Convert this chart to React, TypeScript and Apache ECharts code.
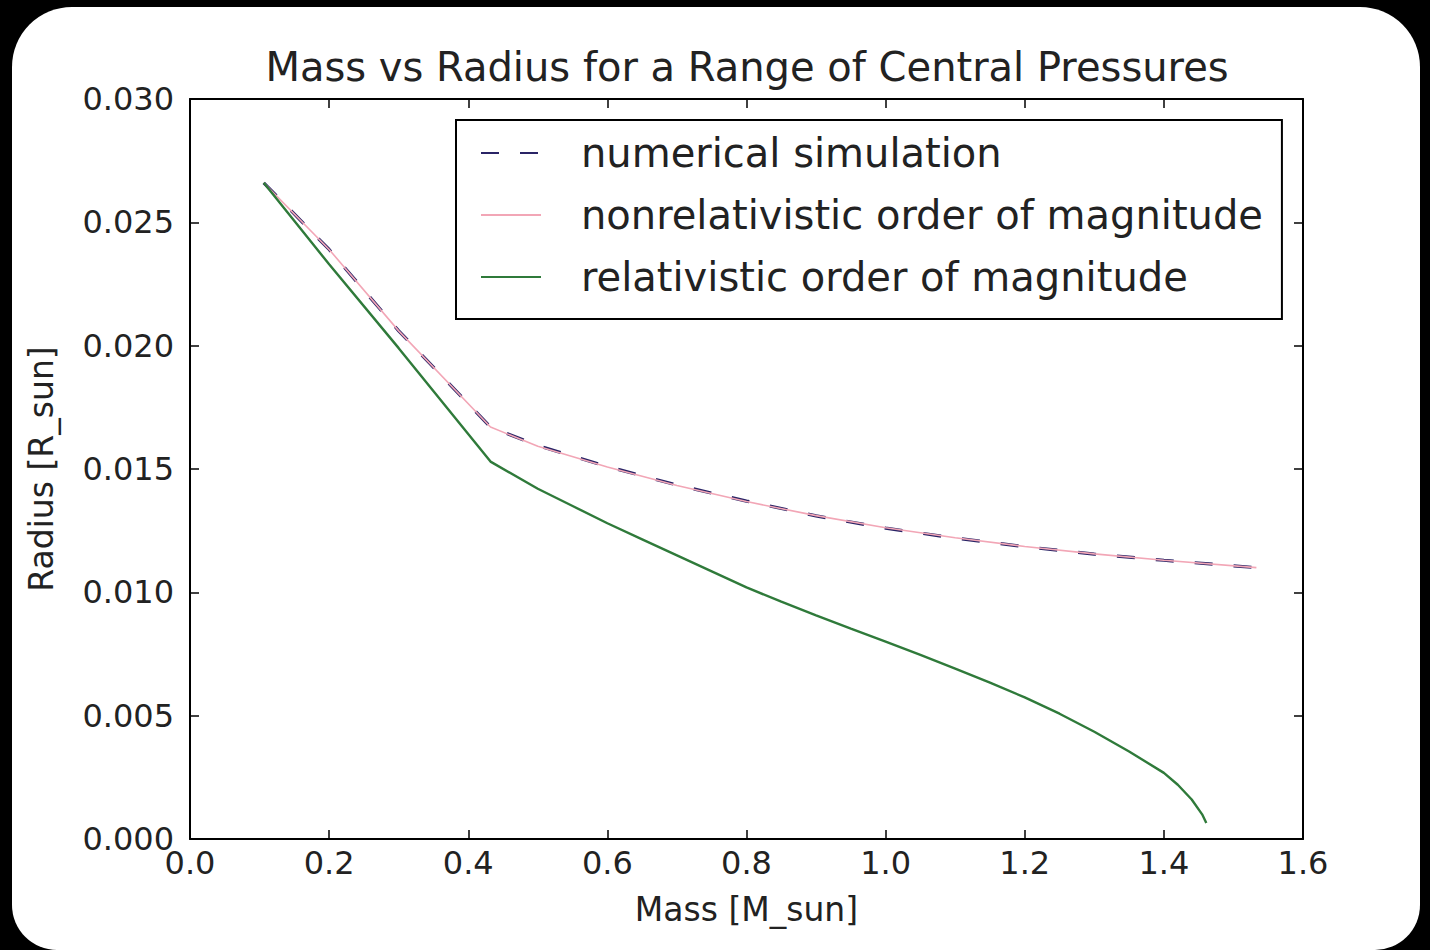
import React, { useEffect, useRef } from "react";
import * as echarts from "echarts";

const title = "Mass vs Radius for a Range of Central Pressures";
const xName = "Mass [M_sun]";
const yName = "Radius [R_sun]";
const seriesNames = [
  "numerical simulation",
  "nonrelativistic order of magnitude",
  "relativistic order of magnitude",
];

const xTicks = { min: 0, max: 1.6, step: 0.2 };
const yTicks = { min: 0, max: 0.03, step: 0.005 };

// numerical simulation
const simMass = [0.106, 0.2, 0.3, 0.432, 0.5, 0.6, 0.7, 0.8, 0.9, 1.0, 1.1, 1.2, 1.3, 1.4, 1.533];
const simRadius = [0.0266, 0.0239, 0.0206, 0.0167, 0.01595, 0.0151, 0.01435, 0.0137, 0.0131, 0.0126, 0.0122, 0.01185, 0.01155, 0.0113, 0.011];

// nonrelativistic order of magnitude
const nrMass = [0.106, 0.2, 0.3, 0.432, 0.5, 0.6, 0.7, 0.8, 0.9, 1.0, 1.1, 1.2, 1.3, 1.4, 1.533];
const nrRadius = [0.0266, 0.0239, 0.0206, 0.0167, 0.01592, 0.01508, 0.01433, 0.01368, 0.01311, 0.01262, 0.01221, 0.01186, 0.01156, 0.0113, 0.011];

// relativistic order of magnitude
const relMass = [0.106, 0.2, 0.3, 0.432, 0.5, 0.55, 0.6, 0.65, 0.7, 0.75, 0.8, 0.85, 0.9, 0.95, 1.0, 1.05, 1.1, 1.15, 1.2, 1.25, 1.3, 1.35, 1.4, 1.42, 1.44, 1.455, 1.461];
const relRadius = [0.0266, 0.0233, 0.0199, 0.0153, 0.0142, 0.0135, 0.0128, 0.01215, 0.0115, 0.01085, 0.0102, 0.00962, 0.00907, 0.00853, 0.008, 0.00746, 0.00691, 0.00634, 0.00574, 0.00508, 0.00435, 0.00355, 0.00268, 0.0022, 0.0016, 0.001, 0.00065];

const pairs = (xs: number[], ys: number[]) => xs.map((x, i) => [x, ys[i]]);

const FONT = "'DejaVu Sans', 'Liberation Sans', sans-serif";
const TEXT = "#222222";

export default function App() {
  const ref = useRef<HTMLDivElement>(null);
  useEffect(() => {
    document.body.style.margin = "0";
    const chart = echarts.init(ref.current!, null, { renderer: "svg" });
    const axisLine = { show: true, onZero: false, lineStyle: { color: "#000", width: 2 } };
    const tick = { show: true, inside: true, length: 9, lineStyle: { color: "#000", width: 1.5 } };
    const option: any = {
      animation: false,
      backgroundColor: "#000",
      textStyle: { fontFamily: FONT },
      graphic: [
        {
          type: "rect",
          z: -100,
          shape: { x: 12, y: 7, width: 1408, height: 943, r: [60, 60, 45, 45] },
          style: { fill: "#ffffff" },
        },
      ],
      title: {
        text: title,
        left: 742,
        top: 42,
        textAlign: "center",
        textStyle: { fontFamily: FONT, fontSize: 40, fontWeight: "normal", color: TEXT },
      },
      grid: { left: 190, top: 99, right: 127, bottom: 111, show: false },
      legend: {
        orient: "vertical",
        left: 456,
        top: 120,
        itemWidth: 60,
        itemHeight: 14,
        itemGap: 22,
        padding: [13, 19, 22, 24],
        backgroundColor: "#fff",
        borderColor: "#000",
        borderWidth: 2,
        borderRadius: 0,
        data: seriesNames,
        itemStyle: { opacity: 0 },
        textStyle: {
          fontFamily: FONT,
          fontSize: 40,
          color: TEXT,
          lineHeight: 40,
          padding: [0, 0, 0, 35],
        },
      },
      xAxis: [
        {
          type: "value",
          min: xTicks.min,
          max: xTicks.max,
          interval: xTicks.step,
          name: xName,
          nameLocation: "middle",
          nameGap: 54,
          nameTextStyle: { fontFamily: FONT, fontSize: 33, color: TEXT },
          axisLine,
          axisTick: tick,
          splitLine: { show: false },
          axisLabel: {
            fontFamily: FONT,
            fontSize: 32,
            color: TEXT,
            margin: 8,
            formatter: (v: number) => v.toFixed(1),
          },
        },
        {
          type: "value",
          position: "top",
          min: xTicks.min,
          max: xTicks.max,
          interval: xTicks.step,
          axisLine,
          axisTick: tick,
          splitLine: { show: false },
          axisLabel: { show: false },
        },
      ],
      yAxis: [
        {
          type: "value",
          min: yTicks.min,
          max: yTicks.max,
          interval: yTicks.step,
          name: yName,
          nameLocation: "middle",
          nameGap: 132,
          nameTextStyle: { fontFamily: FONT, fontSize: 33, color: TEXT },
          axisLine,
          axisTick: tick,
          splitLine: { show: false },
          axisLabel: {
            fontFamily: FONT,
            fontSize: 32,
            color: TEXT,
            margin: 16,
            formatter: (v: number) => v.toFixed(3),
          },
        },
        {
          type: "value",
          position: "right",
          min: yTicks.min,
          max: yTicks.max,
          interval: yTicks.step,
          axisLine,
          axisTick: tick,
          splitLine: { show: false },
          axisLabel: { show: false },
        },
      ],
      series: [
        {
          name: seriesNames[0],
          type: "line",
          xAxisIndex: 0,
          yAxisIndex: 0,
          symbol: "none",
          z: 3,
          data: pairs(simMass, simRadius),
          lineStyle: { color: "#2a2466", width: 3.2, type: [18, 21] },
          itemStyle: { color: "#2a2466" },
        },
        {
          name: seriesNames[1],
          type: "line",
          xAxisIndex: 0,
          yAxisIndex: 0,
          symbol: "none",
          z: 4,
          data: pairs(nrMass, nrRadius),
          lineStyle: { color: "#f2a6b6", width: 1.6 },
          itemStyle: { color: "#f2a6b6" },
        },
        {
          name: seriesNames[2],
          type: "line",
          xAxisIndex: 0,
          yAxisIndex: 0,
          symbol: "none",
          z: 5,
          data: pairs(relMass, relRadius),
          lineStyle: { color: "#2f7a3a", width: 2.4 },
          itemStyle: { color: "#2f7a3a" },
        },
      ],
    };
    chart.setOption(option);
    return () => chart.dispose();
  }, []);
  return (
    <div
      ref={ref}
      style={{ position: "fixed", left: 0, top: 0, width: 1430, height: 950 }}
    />
  );
}
